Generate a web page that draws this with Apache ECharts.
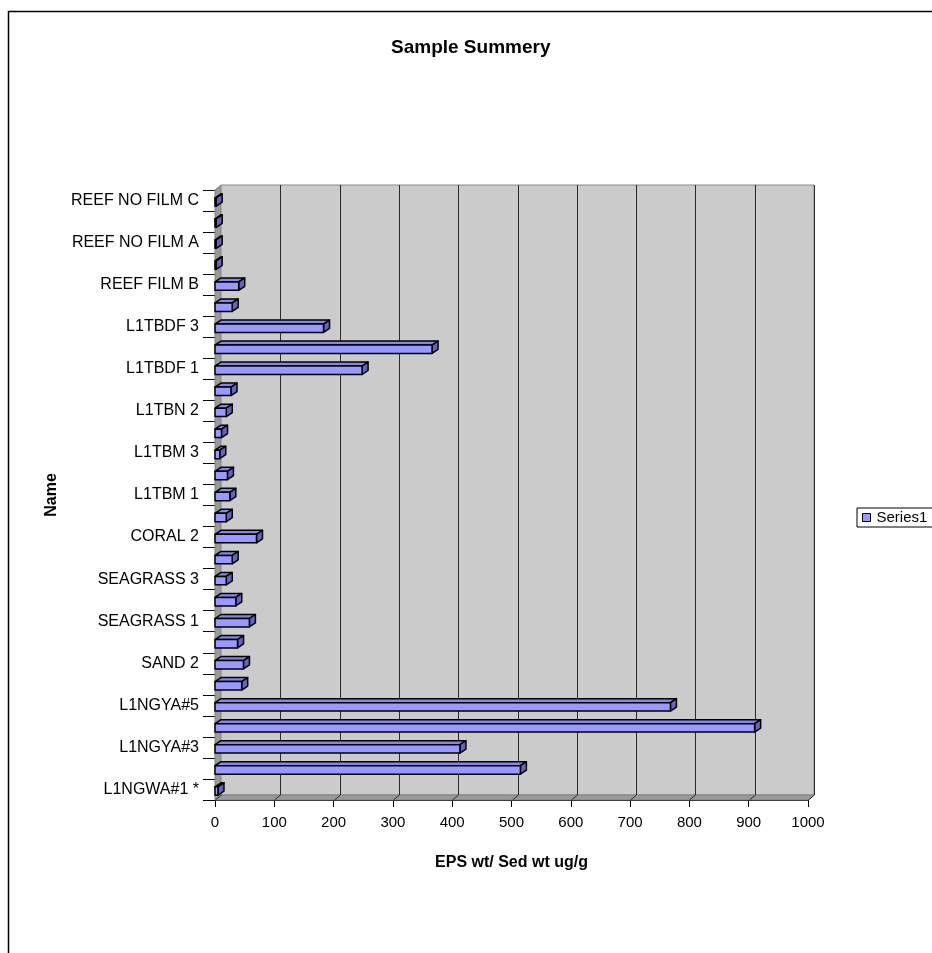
<!DOCTYPE html>
<html>
<head>
<meta charset="utf-8">
<script src="https://cdn.jsdelivr.net/npm/echarts@6/dist/echarts.min.js"></script>
<style>
  html, body { margin: 0; padding: 0; background: #fff; }
  #chart { width: 932px; height: 953px; }
</style>
</head>
<body>
<div id="chart"></div>
<script>
// sample names, bottom to top (only every other one is labelled)
const names = [
  'L1NGWA#1 *', 'L1NGYA#2', 'L1NGYA#3', 'L1NGYA#4', 'L1NGYA#5',
  'SAND 1', 'SAND 2', 'SAND 3', 'SEAGRASS 1', 'SEAGRASS 2',
  'SEAGRASS 3', 'CORAL 1', 'CORAL 2', 'CORAL 3', 'L1TBM 1',
  'L1TBM 2', 'L1TBM 3', 'L1TBN 1', 'L1TBN 2', 'L1TBN 3',
  'L1TBDF 1', 'L1TBDF 2', 'L1TBDF 3', 'REEF FILM A', 'REEF FILM B',
  'REEF FILM C', 'REEF NO FILM A', 'REEF NO FILM B', 'REEF NO FILM C'
]
// EPS wt / Sed wt (ug/g)
const series1 = [
  5, 515, 413, 910, 768,
  45, 48, 38, 58, 35,
  19, 29, 70, 19, 25,
  21, 8, 11, 19, 27,
  248, 366, 183, 29, 40,
  2, 2, 2, 2
]
const xTicks = [0, 100, 200, 300, 400, 500, 600, 700, 800, 900, 1000]

const font = 'Liberation Sans, Arial, sans-serif'
// 3D depth offset
const DX = 6
const DY = -5

const chart = echarts.init(document.getElementById('chart'))

// back wall, side wall, floor and gridlines
function renderWall(params, api) {
  const cs = params.coordSys
  const x = cs.x, y = cs.y, w = cs.width, h = cs.height
  const children = [
    {
      type: 'polygon',
      shape: { points: [[x, y], [x + DX, y + DY], [x + DX, y + h + DY], [x, y + h]] },
      style: { fill: '#9a9a9a', stroke: '#808080', lineWidth: 1 }
    },
    {
      type: 'rect',
      shape: { x: x + DX, y: y + DY, width: w, height: h },
      style: { fill: '#cbcbcb', stroke: '#8a8a8a', lineWidth: 1 }
    },
    {
      type: 'polygon',
      shape: { points: [[x, y + h], [x + DX, y + h + DY], [x + w + DX, y + h + DY], [x + w, y + h]] },
      style: { fill: '#9a9a9a', stroke: '#808080', lineWidth: 1 }
    }
  ]
  xTicks.forEach(function (t) {
    const cx = Math.round(api.coord([t, 0])[0]) + 0.5
    if (t > 0) {
      children.push({
        type: 'line',
        shape: { x1: cx + DX, y1: y + DY, x2: cx + DX, y2: y + h + DY },
        style: { stroke: '#2a2a2a', lineWidth: 1 }
      })
    }
    children.push({
      type: 'line',
      shape: { x1: cx, y1: y + h, x2: cx + DX, y2: y + h + DY },
      style: { stroke: '#2a2a2a', lineWidth: 1 }
    })
  })
  return { type: 'group', children: children }
}

// one 3D bar: front face, top face, right face
function renderBar(params, api) {
  const v = api.value(0)
  const i = api.value(1)
  const p0 = api.coord([0, i])
  const p1 = api.coord([v, i])
  const band = api.size([0, 1])[1]
  const bh = band * 0.4
  const x0 = p0[0], x1 = p1[0]
  const y0 = p0[1] - bh / 2 + 1.5, y1 = y0 + bh
  const line = { stroke: '#000', lineWidth: 1.5, lineJoin: 'round' }
  return {
    type: 'group',
    children: [
      {
        type: 'polygon',
        shape: { points: [[x0, y0], [x0 + DX, y0 + DY + 1], [x1 + DX, y0 + DY + 1], [x1, y0]] },
        style: Object.assign({ fill: '#8585ea' }, line)
      },
      {
        type: 'polygon',
        shape: { points: [[x1, y0], [x1 + DX, y0 + DY + 1], [x1 + DX, y1 + DY + 1], [x1, y1]] },
        style: Object.assign({ fill: '#6464bc' }, line)
      },
      {
        type: 'rect',
        shape: { x: x0, y: y0, width: x1 - x0, height: bh },
        style: Object.assign({ fill: '#9999ff' }, line)
      }
    ]
  }
}

const option = {
  animation: false,
  backgroundColor: '#fff',
  title: {
    text: 'Sample Summery',
    left: 391,
    top: 38,
    padding: 0,
    textStyle: { fontFamily: font, fontSize: 19, fontWeight: 'bold', color: '#000' }
  },
  legend: {
    data: ['Series1'],
    left: 857,
    top: 508,
    padding: [2, 30, 2, 5],
    borderColor: '#000',
    borderWidth: 1,
    icon: 'rect',
    itemWidth: 8,
    itemHeight: 8,
    itemGap: 4,
    itemStyle: { borderColor: '#000', borderWidth: 1 },
    textStyle: { fontFamily: font, fontSize: 15, color: '#000', padding: [0, 0, 0, 1] }
  },
  graphic: [
    {
      type: 'rect',
      silent: true,
      z: -10,
      shape: { x: 8.5, y: 11.5, width: 1000, height: 1000 },
      style: { fill: 'none', stroke: '#000', lineWidth: 1.5 }
    }
  ],
  grid: { left: 215, right: 124, top: 190, bottom: 153 },
  xAxis: {
    type: 'value',
    min: 0,
    max: 1000,
    interval: 100,
    name: 'EPS wt/ Sed wt ug/g',
    nameLocation: 'middle',
    nameGap: 55,
    nameTextStyle: { fontFamily: font, fontSize: 16, fontWeight: 'bold', color: '#000' },
    axisLine: { show: true, lineStyle: { color: '#000', width: 1 } },
    axisTick: { show: true, length: 7, lineStyle: { color: '#000' } },
    axisLabel: {
      margin: 15,
      fontFamily: font,
      fontSize: 15,
      color: '#000',
      formatter: function (v) { return String(v) }
    },
    splitLine: { show: false }
  },
  yAxis: {
    type: 'category',
    data: names,
    name: 'Name',
    nameLocation: 'middle',
    nameGap: 154,
    nameTextStyle: { fontFamily: font, fontSize: 16, fontWeight: 'bold', color: '#000' },
    axisLine: { show: true, lineStyle: { color: '#000', width: 1 } },
    axisTick: { show: true, length: 12, interval: 0, lineStyle: { color: '#000' } },
    axisLabel: { interval: 1, margin: 16, fontFamily: font, fontSize: 16, color: '#000' },
    splitLine: { show: false }
  },
  series: [
    {
      name: 'wall',
      type: 'custom',
      silent: true,
      z: 1,
      renderItem: renderWall,
      data: [[0, 0]],
      encode: { x: 0, y: 1 }
    },
    {
      name: 'Series1',
      type: 'custom',
      z: 3,
      itemStyle: { color: '#9999ff' },
      renderItem: renderBar,
      data: series1.map(function (v, i) { return [v, i] }),
      encode: { x: 0, y: 1 }
    }
  ]
}

chart.setOption(option)
</script>
</body>
</html>
